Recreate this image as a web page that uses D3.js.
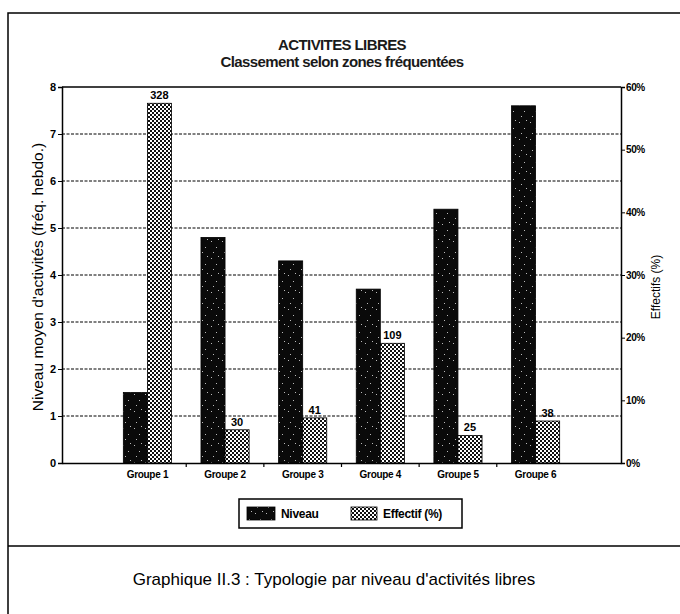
<!DOCTYPE html>
<html>
<head>
<meta charset="utf-8">
<script src="https://cdn.jsdelivr.net/npm/d3@7"></script>
<style>
  body { margin: 0; background: #fff; }
  svg { display: block; }
  .narrow { font-family: "Liberation Sans Narrow", "Arial Narrow", "Liberation Sans", sans-serif; }
</style>
</head>
<body>
<div id="chart"></div>
<script>
const groups = ['Groupe 1', 'Groupe 2', 'Groupe 3', 'Groupe 4', 'Groupe 5', 'Groupe 6'];
const niveau = [1.5, 4.8, 4.3, 3.7, 5.4, 7.6];
const effectifPct = [57.4, 5.3, 7.2, 19.1, 4.4, 6.7];
const effectifN = [328, 30, 41, 109, 25, 38];
const leftTicks = [0, 1, 2, 3, 4, 5, 6, 7, 8];
const rightTicks = [0, 10, 20, 30, 40, 50, 60];

const W = 680, H = 614;
const plot = { left: 62, right: 621, top: 87, bottom: 463 };

const svg = d3.select('#chart').append('svg').attr('width', W).attr('height', H);

// patterns
const defs = svg.append('defs');
const pN = defs.append('pattern').attr('id', 'pNiveau').attr('patternUnits', 'userSpaceOnUse')
    .attr('width', 11).attr('height', 17);
pN.append('rect').attr('width', 11).attr('height', 17).attr('fill', '#0a0a0a');
[[2, 3], [7, 9], [4, 14], [9, 1]].forEach(function (p) {
    pN.append('rect').attr('x', p[0]).attr('y', p[1]).attr('width', 1).attr('height', 1).attr('fill', '#bbb');
});
const pE = defs.append('pattern').attr('id', 'pEffectif').attr('patternUnits', 'userSpaceOnUse')
    .attr('width', 4).attr('height', 4);
pE.append('rect').attr('width', 4).attr('height', 4).attr('fill', '#fff');
pE.append('rect').attr('x', 0).attr('y', 0).attr('width', 2).attr('height', 2).attr('fill', '#111');
pE.append('rect').attr('x', 2).attr('y', 2).attr('width', 2).attr('height', 2).attr('fill', '#111');

// outer frame + caption separator
svg.append('rect').attr('x', 8).attr('y', 13).attr('width', 700).attr('height', 700)
    .attr('fill', 'none').attr('stroke', '#000').attr('stroke-width', 1.5);
svg.append('line').attr('x1', 8).attr('x2', 680).attr('y1', 546).attr('y2', 546)
    .attr('stroke', '#000').attr('stroke-width', 1.5);

// scales
const x = d3.scaleBand().domain(groups).range([plot.left, plot.right]).paddingInner(0).paddingOuter(0.6);
const yL = d3.scaleLinear().domain([0, 8]).range([plot.bottom, plot.top]);
const yR = d3.scaleLinear().domain([0, 60]).range([plot.bottom, plot.top]);
const bw = x.bandwidth() * 0.31;

// grid
svg.append('g').selectAll('line').data(leftTicks.filter(d => d > 0 && d < 8)).enter().append('line')
    .attr('x1', plot.left).attr('x2', plot.right)
    .attr('y1', d => yL(d)).attr('y2', d => yL(d))
    .attr('stroke', '#000').attr('stroke-width', 1).attr('stroke-dasharray', '3,1.5');

// bars
const rows = groups.map((g, i) => ({ g: g, niv: niveau[i], pct: effectifPct[i], n: effectifN[i] }));
svg.append('g').selectAll('rect').data(rows).enter().append('rect')
    .attr('x', d => x(d.g) + x.bandwidth() / 2 - bw)
    .attr('y', d => yL(d.niv))
    .attr('width', bw).attr('height', d => yL(0) - yL(d.niv))
    .attr('fill', 'url(#pNiveau)').attr('stroke', '#000').attr('stroke-width', 0.8);
svg.append('g').selectAll('rect').data(rows).enter().append('rect')
    .attr('x', d => x(d.g) + x.bandwidth() / 2)
    .attr('y', d => yR(d.pct))
    .attr('width', bw).attr('height', d => yR(0) - yR(d.pct))
    .attr('fill', 'url(#pEffectif)').attr('stroke', '#000').attr('stroke-width', 0.8);
svg.append('g').selectAll('text').data(rows).enter().append('text')
    .attr('class', 'narrow')
    .attr('x', d => x(d.g) + x.bandwidth() / 2 + bw / 2)
    .attr('y', d => yR(d.pct) - 4)
    .attr('text-anchor', 'middle').attr('font-size', 11).attr('font-weight', 'bold')
    .text(d => d.n);

// frame of the plot
svg.append('line').attr('x1', plot.left).attr('x2', plot.right).attr('y1', plot.top).attr('y2', plot.top)
    .attr('stroke', '#000').attr('stroke-width', 1.5);

// axes
const axL = svg.append('g').attr('transform', `translate(${plot.left},0)`)
    .call(d3.axisLeft(yL).tickValues(leftTicks).tickSize(4).tickPadding(2));
const axR = svg.append('g').attr('transform', `translate(${plot.right},0)`)
    .call(d3.axisRight(yR).tickValues(rightTicks).tickSize(4).tickPadding(1).tickFormat(d => d + '%'));
const axB = svg.append('g').attr('transform', `translate(0,${plot.bottom})`)
    .call(d3.axisBottom(x).tickSize(0).tickPadding(8));
[axL, axR, axB].forEach(function (a) {
    a.select('.domain').attr('stroke', '#000').attr('stroke-width', 1.5);
    a.selectAll('.tick line').attr('stroke', '#000');
    a.selectAll('text').attr('class', 'narrow').attr('font-weight', 'bold').attr('fill', '#000')
        .attr('font-family', null);
});
axL.selectAll('text').attr('font-size', 11);
axR.selectAll('text').attr('font-size', 10).attr('letter-spacing', -0.4);
axB.selectAll('text').attr('font-size', 10).attr('letter-spacing', -0.3);
// small separators between groups
svg.append('g').selectAll('line').data(groups.slice(1)).enter().append('line')
    .attr('x1', d => x(d)).attr('x2', d => x(d))
    .attr('y1', plot.bottom).attr('y2', plot.bottom + 4)
    .attr('stroke', '#000').attr('stroke-width', 1.2);

// titles
svg.append('text').attr('class', 'narrow').attr('x', 342).attr('y', 50)
    .attr('text-anchor', 'middle').attr('font-size', 15).attr('font-weight', 'bold')
    .attr('letter-spacing', -0.6).attr('fill', '#1a1a1a')
    .text('ACTIVITES LIBRES');
svg.append('text').attr('class', 'narrow').attr('x', 342).attr('y', 67)
    .attr('text-anchor', 'middle').attr('font-size', 15).attr('font-weight', 'bold')
    .attr('letter-spacing', -0.6).attr('fill', '#1a1a1a')
    .text('Classement selon zones fréquentées');

svg.append('text').attr('transform', 'translate(43,277) rotate(-90)')
    .attr('text-anchor', 'middle').attr('font-family', 'Liberation Sans, Arial, sans-serif')
    .attr('font-size', 15.5).text("Niveau moyen d'activités (fréq. hebdo.)");
svg.append('text').attr('transform', 'translate(660,287) rotate(-90)')
    .attr('text-anchor', 'middle').attr('font-family', 'Liberation Sans, Arial, sans-serif')
    .attr('font-size', 12).text('Effectifs (%)');

// legend
const lg = svg.append('g');
lg.append('rect').attr('x', 239).attr('y', 499).attr('width', 223).attr('height', 29)
    .attr('fill', '#fff').attr('stroke', '#000').attr('stroke-width', 1.5);
lg.append('rect').attr('x', 247).attr('y', 507).attr('width', 28).attr('height', 13)
    .attr('fill', 'url(#pNiveau)').attr('stroke', '#000').attr('stroke-width', 0.8);
lg.append('text').attr('class', 'narrow').attr('x', 281).attr('y', 518)
    .attr('font-size', 12).attr('font-weight', 'bold').attr('letter-spacing', -0.3).text('Niveau');
lg.append('rect').attr('x', 351).attr('y', 507).attr('width', 26).attr('height', 13)
    .attr('fill', 'url(#pEffectif)').attr('stroke', '#000').attr('stroke-width', 0.8);
lg.append('text').attr('class', 'narrow').attr('x', 383).attr('y', 518)
    .attr('font-size', 12).attr('font-weight', 'bold').attr('letter-spacing', -0.3).text('Effectif (%)');

// caption
svg.append('text').attr('x', 334).attr('y', 585).attr('text-anchor', 'middle')
    .attr('font-family', 'Liberation Sans, Arial, sans-serif').attr('font-size', 17)
    .text("Graphique II.3 : Typologie par niveau d'activités libres");
</script>
</body>
</html>
